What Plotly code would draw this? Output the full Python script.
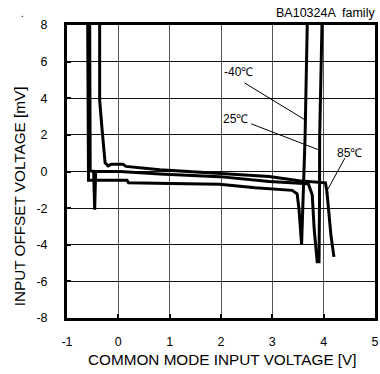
import plotly.graph_objects as go

# ---- data ----
x_m40 = [-0.597, -0.591, -0.583, -0.581, 0.169, 0.198, 1.002, 1.971, 2.669, 2.998, 3.386, 3.483, 3.521, 3.570, 3.599, 3.618, 3.638, 3.680]
y_m40 = [8.0, 3.91, 0.64, -0.48, -0.48, -0.62, -0.65, -0.70, -0.89, -0.95, -1.03, -1.22, -2.09, -4.0, -1.55, -0.62, 1.89, 8.0]

x_25 = [-0.558, -0.552, -0.548, -0.548, -0.481, -0.471, -0.461, -0.442, 0.033, 0.808, 1.971, 2.940, 3.520, 3.700, 3.777, 3.816, 3.874, 3.910, 3.919, 3.922, 3.967]
y_25 = [8.0, 5.0, 2.27, 0.03, 0.01, -1.0, -2.09, 0.0, 0.0, -0.13, -0.28, -0.55, -0.62, -0.67, -1.27, -3.18, -4.93, -4.93, -1.55, 1.89, 8.0]

x_85 = [-0.364, -0.364, -0.316, -0.277, -0.258, -0.200, -0.141, 0.091, 0.149, 0.808, 1.971, 2.940, 3.520, 4.035, 4.064, 4.103, 4.141, 4.200]
y_85 = [8.0, 3.91, 2.27, 0.91, 0.47, 0.31, 0.39, 0.39, 0.28, 0.09, -0.09, -0.27, -0.51, -0.62, -1.11, -2.37, -3.46, -4.66]

x_ticks = [-1, 0, 1, 2, 3, 4, 5]
y_ticks = [-8, -6, -4, -2, 0, 2, 4, 6, 8]

labels = ["-40\u2103", "25\u2103", "85\u2103"]
label_x = [2.34, 2.28, 4.51]
label_y = [5.41, 2.85, 1.02]
leader_x = [[2.457, 3.638], [2.591, 3.905], [4.413, 4.040]]
leader_y = [[4.84, 2.82], [2.60, 1.18], [0.73, -1.18]]

x_title = "COMMON MODE INPUT VOLTAGE [V]"
y_title = "INPUT OFFSET VOLTAGE [mV]"

FONT = "Arial, Liberation Sans, sans-serif"

fig = go.Figure()
for xs, ys in [(x_m40, y_m40), (x_25, y_25), (x_85, y_85)]:
    fig.add_trace(go.Scatter(x=xs, y=ys, mode="lines",
                             line=dict(color="black", width=3), showlegend=False,
                             hoverinfo="skip"))
for lx, ly in zip(leader_x, leader_y):
    fig.add_trace(go.Scatter(x=lx, y=ly, mode="lines",
                             line=dict(color="black", width=1), showlegend=False,
                             hoverinfo="skip"))

for t, tx, ty in zip(labels, label_x, label_y):
    fig.add_annotation(x=tx, y=ty, xref="x", yref="y", text=t, showarrow=False,
                       font=dict(family=FONT, size=12, color="black"))

fig.add_annotation(x=1.0, y=1.0, xref="paper", yref="paper", xanchor="right", yanchor="bottom",
                   yshift=3, xshift=2, text="BA10324A  family", showarrow=False,
                   font=dict(family=FONT, size=12.5, color="black"))
fig.add_annotation(x=-0.143, y=1.0, xref="paper", yref="paper", xanchor="center", yanchor="bottom",
                   yshift=4, text=".", showarrow=False,
                   font=dict(family=FONT, size=10, color="black"))

# axis titles placed as annotations (paper coordinates)
fig.add_annotation(x=0.505, y=-0.14, xref="paper", yref="paper", xanchor="center", yanchor="middle",
                   text=x_title, showarrow=False,
                   font=dict(family=FONT, size=15.3, color="black"))
fig.add_annotation(x=-0.155, y=0.416, xref="paper", yref="paper", xanchor="center", yanchor="middle",
                   text=y_title, showarrow=False, textangle=-90,
                   font=dict(family=FONT, size=15.3, color="black"))

fig.update_xaxes(range=[-1, 5], tickvals=x_ticks, ticktext=[str(v) for v in x_ticks],
                 showgrid=True, gridcolor="#555555", gridwidth=1,
                 showline=True, linecolor="black", linewidth=3, mirror=True,
                 ticks="inside", ticklen=4, tickwidth=2, tickcolor="black",
                 zeroline=False, ticklabelstandoff=10, automargin=False,
                 tickfont=dict(family=FONT, size=12.5, color="black"))
fig.update_yaxes(range=[-8, 8], tickvals=y_ticks, ticktext=[str(v) for v in y_ticks],
                 showgrid=True, gridcolor="#111111", gridwidth=1,
                 showline=True, linecolor="black", linewidth=3, mirror=True,
                 ticks="inside", ticklen=4, tickwidth=2, tickcolor="black",
                 zeroline=False, ticklabelstandoff=14, automargin=False,
                 tickfont=dict(family=FONT, size=12.5, color="black"))

fig.update_layout(width=380, height=374, margin=dict(l=67, r=5, t=25, b=56),
                  paper_bgcolor="white", plot_bgcolor="white", showlegend=False)

fig.write_html("out.html", config={"displayModeBar": False},
               post_script="document.body.style.margin='0px';")
